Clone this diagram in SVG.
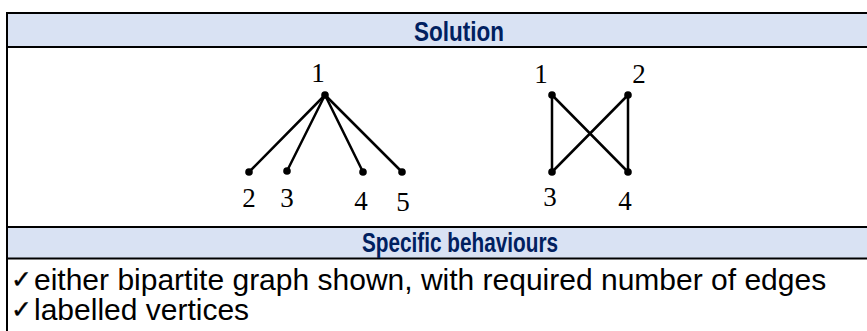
<svg xmlns="http://www.w3.org/2000/svg" width="867" height="331" viewBox="0 0 867 331">
  <style>
    .band { fill: #D9E2F3; }
    .rule { stroke: #000; stroke-width: 2; fill: none; }
    .head { font-family: "Liberation Sans", Arial, sans-serif; font-weight: bold; font-size: 27px; fill: #002060; text-anchor: middle; }
    .body { font-family: "Liberation Sans", Arial, "DejaVu Sans", sans-serif; font-size: 30px; fill: #000; }
    .tick { font-family: "DejaVu Sans", sans-serif; font-size: 25px; fill: #000; stroke: #000; stroke-width: 0.4; }
    .lbl { font-family: "Liberation Serif", "Times New Roman", serif; font-size: 27px; fill: #000; text-anchor: middle; }
    .edge { stroke: #000; stroke-width: 2.5; stroke-linecap: round; }
    .dot { fill: #000; }
  </style>

  <!-- table bands -->
  <rect class="band" x="7" y="13" width="870" height="34"/>
  <rect class="band" x="7" y="227" width="870" height="31"/>

  <!-- table rules -->
  <g id="table">
    <line class="rule" x1="6" y1="13" x2="867" y2="13"/>
    <line class="rule" x1="6" y1="47" x2="867" y2="47"/>
    <line class="rule" x1="6" y1="227" x2="867" y2="227"/>
    <line class="rule" x1="6" y1="258.5" x2="867" y2="258.5" stroke-width="1.5"/>
    <line class="rule" x1="7" y1="12" x2="7" y2="331"/>
  </g>

  <text class="head" x="459" y="41" textLength="90" lengthAdjust="spacingAndGlyphs">Solution</text>
  <text class="head" x="460" y="252" textLength="196" lengthAdjust="spacingAndGlyphs">Specific behaviours</text>

  <g id="connectors">
    <!-- star graph -->
    <line class="edge" x1="325" y1="95" x2="249" y2="172"/>
    <line class="edge" x1="325" y1="95" x2="287" y2="171"/>
    <line class="edge" x1="325" y1="95" x2="363" y2="172"/>
    <line class="edge" x1="325" y1="95" x2="402" y2="172"/>
    <!-- bow tie -->
    <line class="edge" x1="552" y1="95" x2="552" y2="172"/>
    <line class="edge" x1="628" y1="95" x2="628" y2="172"/>
    <line class="edge" x1="552" y1="95" x2="628" y2="172"/>
    <line class="edge" x1="628" y1="95" x2="552" y2="172"/>
  </g>

  <g id="star-v1"><circle class="dot" cx="325" cy="95" r="3.8"/><text class="lbl" x="318" y="82">1</text></g>
  <g id="star-v2"><circle class="dot" cx="249" cy="172" r="3.8"/><text class="lbl" x="249" y="207">2</text></g>
  <g id="star-v3"><circle class="dot" cx="287" cy="171" r="3.8"/><text class="lbl" x="287" y="207">3</text></g>
  <g id="star-v4"><circle class="dot" cx="363" cy="172" r="3.8"/><text class="lbl" x="361" y="210">4</text></g>
  <g id="star-v5"><circle class="dot" cx="402" cy="172" r="3.8"/><text class="lbl" x="403" y="211">5</text></g>

  <g id="bow-v1"><circle class="dot" cx="552" cy="95" r="3.8"/><text class="lbl" x="541" y="83">1</text></g>
  <g id="bow-v2"><circle class="dot" cx="628" cy="95" r="3.8"/><text class="lbl" x="639" y="83">2</text></g>
  <g id="bow-v3"><circle class="dot" cx="552" cy="172" r="3.8"/><text class="lbl" x="550" y="206">3</text></g>
  <g id="bow-v4"><circle class="dot" cx="628" cy="172" r="3.8"/><text class="lbl" x="625" y="210">4</text></g>

  <text class="tick" x="11" y="288">✓</text>
  <text class="body" x="34" y="290">either bipartite graph shown, with required number of edges</text>
  <text class="tick" x="11" y="318">✓</text>
  <text class="body" x="34" y="320">labelled vertices</text>
</svg>
